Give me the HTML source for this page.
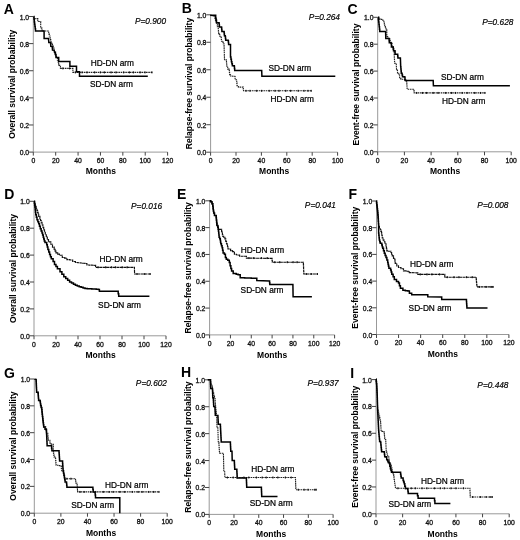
<!DOCTYPE html>
<html><head><meta charset="utf-8"><title>Kaplan-Meier survival curves</title>
<style>
html,body{margin:0;padding:0;background:#fff;}
body{width:520px;height:540px;overflow:hidden;}
svg{display:block;will-change:transform;}
text{font-family:"Liberation Sans", sans-serif;}
.L{font-size:14px;font-weight:bold;fill:#000;}
.tl{font-size:6.8px;fill:#111;stroke:#111;stroke-width:0.3px;}
.al{font-size:8.5px;font-weight:bold;fill:#000;}
.lg{font-size:8.3px;fill:#000;stroke:#000;stroke-width:0.22px;}
.pv{font-size:8.3px;font-style:italic;fill:#000;stroke:#000;stroke-width:0.18px;}
.ax{stroke:#999;stroke-width:1;fill:none;}
.tk{stroke:#444;stroke-width:1;fill:none;}
.sc{stroke:#000;stroke-width:1.5;fill:none;stroke-linejoin:miter;}
.dc{stroke:#222;stroke-width:1.1;fill:none;stroke-dasharray:1.6 0.7;}
.cm{fill:#111;}
.dc2{stroke:#111;stroke-width:1.15;stroke-dasharray:3 0.45;}
</style></head>
<body><svg width="520" height="540" viewBox="0 0 520 540">
<rect width="520" height="540" fill="#fff"/>
<text x="3.7" y="13.7" class="L">A</text>
<line x1="33.3" y1="16.5" x2="33.3" y2="152.1" class="ax"/>
<line x1="33.3" y1="152.1" x2="167.6" y2="152.1" class="ax"/>
<line x1="29.00" y1="152.10" x2="33.3" y2="152.10" class="tk"/>
<text x="29.10" y="155.10" class="tl" text-anchor="end">0.0</text>
<line x1="29.00" y1="124.98" x2="33.3" y2="124.98" class="tk"/>
<text x="29.10" y="127.98" class="tl" text-anchor="end">0.2</text>
<line x1="29.00" y1="97.86" x2="33.3" y2="97.86" class="tk"/>
<text x="29.10" y="100.86" class="tl" text-anchor="end">0.4</text>
<line x1="29.00" y1="70.74" x2="33.3" y2="70.74" class="tk"/>
<text x="29.10" y="73.74" class="tl" text-anchor="end">0.6</text>
<line x1="29.00" y1="43.62" x2="33.3" y2="43.62" class="tk"/>
<text x="29.10" y="46.62" class="tl" text-anchor="end">0.8</text>
<line x1="29.00" y1="16.50" x2="33.3" y2="16.50" class="tk"/>
<text x="29.10" y="19.50" class="tl" text-anchor="end">1.0</text>
<line x1="33.30" y1="152.1" x2="33.30" y2="155.60" class="tk"/>
<text x="33.30" y="162.80" class="tl" text-anchor="middle">0</text>
<line x1="55.68" y1="152.1" x2="55.68" y2="155.60" class="tk"/>
<text x="55.68" y="162.80" class="tl" text-anchor="middle">20</text>
<line x1="78.07" y1="152.1" x2="78.07" y2="155.60" class="tk"/>
<text x="78.07" y="162.80" class="tl" text-anchor="middle">40</text>
<line x1="100.45" y1="152.1" x2="100.45" y2="155.60" class="tk"/>
<text x="100.45" y="162.80" class="tl" text-anchor="middle">60</text>
<line x1="122.83" y1="152.1" x2="122.83" y2="155.60" class="tk"/>
<text x="122.83" y="162.80" class="tl" text-anchor="middle">80</text>
<line x1="145.22" y1="152.1" x2="145.22" y2="155.60" class="tk"/>
<text x="145.22" y="162.80" class="tl" text-anchor="middle">100</text>
<line x1="167.60" y1="152.1" x2="167.60" y2="155.60" class="tk"/>
<text x="167.60" y="162.80" class="tl" text-anchor="middle">120</text>
<text x="100.9" y="174.4" class="al" text-anchor="middle">Months</text>
<text transform="translate(14.80,84.30) rotate(-90)" class="al" text-anchor="middle">Overall survival probability</text>
<text x="166.1" y="23.6" class="pv" text-anchor="end">P=0.900</text>
<polyline points="33.70,16.60 33.90,18.60 37.80,18.60 37.80,21.50 40.70,21.50 40.70,28.10 42.00,28.10 42.00,31.00 48.70,31.00 48.70,34.00 49.35,34.00 49.35,36.00 50.00,36.00 50.00,38.00 50.50,38.00 50.50,40.00 51.00,40.00 51.00,42.00 51.75,42.00 51.75,44.00 52.50,44.00 52.50,46.00 53.25,46.00 53.25,48.00 54.00,48.00 54.00,50.00 54.50,50.00 54.50,52.00 55.00,52.00 55.00,54.00 55.75,54.00 55.75,56.00 56.50,56.00 56.50,58.00 57.40,58.00 57.40,60.25 58.30,60.25 58.30,62.50 58.70,62.50 58.70,65.40 60.40,65.40 60.40,68.40 72.90,68.40 72.90,72.40 152.20,72.40" class="dc"/>
<polyline points="33.70,16.60 34.00,16.60 34.00,19.30 34.30,19.30 34.30,22.00 34.60,22.00 34.60,24.25 34.90,24.25 34.90,26.50 35.20,26.50 35.20,28.75 35.50,28.75 35.50,31.00 44.10,31.00 44.10,38.50 48.50,38.50 48.80,42.50 50.50,42.50 50.80,46.30 52.20,46.50 52.50,50.00 54.20,50.30 54.50,52.30 55.40,52.30 55.40,54.60 56.00,54.60 56.00,57.50 58.70,57.50 58.70,61.60 69.90,61.60 69.90,66.30 76.50,66.30 76.50,71.70 79.50,71.70 79.50,76.20 147.80,76.20" class="sc"/>
<rect x="62.30" y="67.45" width="1.2" height="1.9" class="cm"/>
<rect x="69.00" y="67.45" width="1.2" height="1.9" class="cm"/>
<rect x="74.80" y="71.45" width="1.2" height="1.9" class="cm"/>
<rect x="81.50" y="71.45" width="1.2" height="1.9" class="cm"/>
<rect x="86.40" y="71.45" width="1.2" height="1.9" class="cm"/>
<rect x="94.00" y="71.45" width="1.2" height="1.9" class="cm"/>
<rect x="99.80" y="71.45" width="1.2" height="1.9" class="cm"/>
<rect x="103.80" y="71.45" width="1.2" height="1.9" class="cm"/>
<rect x="110.50" y="71.45" width="1.2" height="1.9" class="cm"/>
<rect x="115.40" y="71.45" width="1.2" height="1.9" class="cm"/>
<rect x="123.00" y="71.45" width="1.2" height="1.9" class="cm"/>
<rect x="128.80" y="71.45" width="1.2" height="1.9" class="cm"/>
<rect x="132.80" y="71.45" width="1.2" height="1.9" class="cm"/>
<rect x="139.50" y="71.45" width="1.2" height="1.9" class="cm"/>
<rect x="144.40" y="71.45" width="1.2" height="1.9" class="cm"/>
<rect x="151.30" y="71.45" width="1.2" height="1.9" class="cm"/>
<text x="90.7" y="65.7" class="lg">HD-DN arm</text>
<text x="90.0" y="86.7" class="lg">SD-DN arm</text>
<text x="181.7" y="13.3" class="L">B</text>
<line x1="210.6" y1="14.8" x2="210.6" y2="152.2" class="ax"/>
<line x1="210.6" y1="152.2" x2="337.6" y2="152.2" class="ax"/>
<line x1="206.30" y1="152.20" x2="210.6" y2="152.20" class="tk"/>
<text x="206.40" y="155.20" class="tl" text-anchor="end">0.0</text>
<line x1="206.30" y1="124.72" x2="210.6" y2="124.72" class="tk"/>
<text x="206.40" y="127.72" class="tl" text-anchor="end">0.2</text>
<line x1="206.30" y1="97.24" x2="210.6" y2="97.24" class="tk"/>
<text x="206.40" y="100.24" class="tl" text-anchor="end">0.4</text>
<line x1="206.30" y1="69.76" x2="210.6" y2="69.76" class="tk"/>
<text x="206.40" y="72.76" class="tl" text-anchor="end">0.6</text>
<line x1="206.30" y1="42.28" x2="210.6" y2="42.28" class="tk"/>
<text x="206.40" y="45.28" class="tl" text-anchor="end">0.8</text>
<line x1="206.30" y1="14.80" x2="210.6" y2="14.80" class="tk"/>
<text x="206.40" y="17.80" class="tl" text-anchor="end">1.0</text>
<line x1="210.60" y1="152.2" x2="210.60" y2="155.70" class="tk"/>
<text x="210.60" y="162.90" class="tl" text-anchor="middle">0</text>
<line x1="236.00" y1="152.2" x2="236.00" y2="155.70" class="tk"/>
<text x="236.00" y="162.90" class="tl" text-anchor="middle">20</text>
<line x1="261.40" y1="152.2" x2="261.40" y2="155.70" class="tk"/>
<text x="261.40" y="162.90" class="tl" text-anchor="middle">40</text>
<line x1="286.80" y1="152.2" x2="286.80" y2="155.70" class="tk"/>
<text x="286.80" y="162.90" class="tl" text-anchor="middle">60</text>
<line x1="312.20" y1="152.2" x2="312.20" y2="155.70" class="tk"/>
<text x="312.20" y="162.90" class="tl" text-anchor="middle">80</text>
<line x1="337.60" y1="152.2" x2="337.60" y2="155.70" class="tk"/>
<text x="337.60" y="162.90" class="tl" text-anchor="middle">100</text>
<text x="274.2" y="174.4" class="al" text-anchor="middle">Months</text>
<text transform="translate(192.10,83.50) rotate(-90)" class="al" text-anchor="middle">Relapse-free survival probability</text>
<text x="340.0" y="20.4" class="pv" text-anchor="end">P=0.264</text>
<polyline points="210.25,15.20 212.12,15.20 212.12,15.70 214.00,15.70 214.00,16.20 214.80,16.20 214.80,18.25 215.45,18.25 215.45,20.12 216.10,20.12 216.10,22.00 216.90,22.00 216.90,24.50 217.30,24.50 217.30,26.60 218.20,26.60 218.20,28.70 218.40,28.70 218.40,31.20 218.60,31.20 218.60,33.70 219.40,33.70 219.40,34.50 219.80,34.50 219.80,36.20 221.10,36.20 221.10,37.40 221.30,37.40 221.30,39.30 221.50,39.30 221.50,41.20 222.75,41.20 222.75,42.00 223.20,42.00 223.20,43.70 224.00,43.70 224.00,44.90 224.07,44.90 224.07,47.03 224.14,47.03 224.14,49.16 224.21,49.16 224.21,51.29 224.29,51.29 224.29,53.41 224.36,53.41 224.36,55.54 224.43,55.54 224.43,57.67 224.50,57.67 224.50,59.80 226.30,59.80 226.30,60.30 226.47,60.30 226.47,62.30 226.63,62.30 226.63,64.30 226.80,64.30 226.80,66.30 227.70,66.30 227.70,69.10 229.10,69.10 229.10,70.00 229.35,70.00 229.35,72.30 229.60,72.30 229.60,74.60 230.50,74.60 230.50,76.00 232.60,76.00 232.60,76.25 234.70,76.25 234.70,76.50 235.10,76.50 235.10,79.70 236.50,79.70 236.50,80.60 236.75,80.60 236.75,83.15 237.00,83.15 237.00,85.70 238.40,85.70 238.40,87.10 243.00,87.10 243.25,87.10 243.25,88.95 243.50,88.95 243.50,90.80 311.50,90.80" class="dc"/>
<polyline points="210.25,15.20 215.25,15.20 215.70,15.20 215.70,18.25 216.10,18.25 216.10,20.30 216.50,20.30 216.50,22.80 219.00,22.80 219.00,23.20 219.20,23.20 219.20,25.10 219.40,25.10 219.40,27.00 221.50,27.00 221.50,27.40 221.70,27.40 221.70,29.50 221.90,29.50 221.90,31.60 224.00,31.60 224.00,32.00 224.20,32.00 224.20,33.88 224.40,33.88 224.40,35.75 225.25,35.75 225.25,36.60 225.47,36.60 225.47,38.45 225.70,38.45 225.70,40.30 228.20,40.30 228.20,40.75 228.40,40.75 228.40,42.62 228.60,42.62 228.60,44.50 230.50,44.50 230.50,44.90 230.50,57.00 230.95,57.00 230.95,59.35 231.40,59.35 231.40,61.70 231.88,61.70 231.88,63.75 232.35,63.75 232.35,65.80 234.20,65.80 234.20,66.30 234.45,66.30 234.45,68.40 234.70,68.40 234.70,70.50 261.70,70.50 261.90,76.30 335.30,76.30" class="sc"/>
<rect x="245.40" y="89.85" width="1.2" height="1.9" class="cm"/>
<rect x="249.40" y="89.85" width="1.2" height="1.9" class="cm"/>
<rect x="256.10" y="89.85" width="1.2" height="1.9" class="cm"/>
<rect x="261.00" y="89.85" width="1.2" height="1.9" class="cm"/>
<rect x="268.60" y="89.85" width="1.2" height="1.9" class="cm"/>
<rect x="274.40" y="89.85" width="1.2" height="1.9" class="cm"/>
<rect x="278.40" y="89.85" width="1.2" height="1.9" class="cm"/>
<rect x="285.10" y="89.85" width="1.2" height="1.9" class="cm"/>
<rect x="290.00" y="89.85" width="1.2" height="1.9" class="cm"/>
<rect x="297.60" y="89.85" width="1.2" height="1.9" class="cm"/>
<rect x="303.40" y="89.85" width="1.2" height="1.9" class="cm"/>
<rect x="307.40" y="89.85" width="1.2" height="1.9" class="cm"/>
<rect x="310.60" y="89.85" width="1.2" height="1.9" class="cm"/>
<text x="268.4" y="70.5" class="lg">SD-DN arm</text>
<text x="270.6" y="101.5" class="lg">HD-DN arm</text>
<text x="347.4" y="13.9" class="L">C</text>
<line x1="377.7" y1="17.3" x2="377.7" y2="151.8" class="ax"/>
<line x1="377.7" y1="151.8" x2="511.2" y2="151.8" class="ax"/>
<line x1="373.40" y1="151.80" x2="377.7" y2="151.80" class="tk"/>
<text x="373.50" y="154.80" class="tl" text-anchor="end">0.0</text>
<line x1="373.40" y1="124.90" x2="377.7" y2="124.90" class="tk"/>
<text x="373.50" y="127.90" class="tl" text-anchor="end">0.2</text>
<line x1="373.40" y1="98.00" x2="377.7" y2="98.00" class="tk"/>
<text x="373.50" y="101.00" class="tl" text-anchor="end">0.4</text>
<line x1="373.40" y1="71.10" x2="377.7" y2="71.10" class="tk"/>
<text x="373.50" y="74.10" class="tl" text-anchor="end">0.6</text>
<line x1="373.40" y1="44.20" x2="377.7" y2="44.20" class="tk"/>
<text x="373.50" y="47.20" class="tl" text-anchor="end">0.8</text>
<line x1="373.40" y1="17.30" x2="377.7" y2="17.30" class="tk"/>
<text x="373.50" y="20.30" class="tl" text-anchor="end">1.0</text>
<line x1="377.70" y1="151.8" x2="377.70" y2="155.30" class="tk"/>
<text x="377.70" y="162.50" class="tl" text-anchor="middle">0</text>
<line x1="404.40" y1="151.8" x2="404.40" y2="155.30" class="tk"/>
<text x="404.40" y="162.50" class="tl" text-anchor="middle">20</text>
<line x1="431.10" y1="151.8" x2="431.10" y2="155.30" class="tk"/>
<text x="431.10" y="162.50" class="tl" text-anchor="middle">40</text>
<line x1="457.80" y1="151.8" x2="457.80" y2="155.30" class="tk"/>
<text x="457.80" y="162.50" class="tl" text-anchor="middle">60</text>
<line x1="484.50" y1="151.8" x2="484.50" y2="155.30" class="tk"/>
<text x="484.50" y="162.50" class="tl" text-anchor="middle">80</text>
<line x1="511.20" y1="151.8" x2="511.20" y2="155.30" class="tk"/>
<text x="511.20" y="162.50" class="tl" text-anchor="middle">100</text>
<text x="445.0" y="174.4" class="al" text-anchor="middle">Months</text>
<text transform="translate(359.20,84.55) rotate(-90)" class="al" text-anchor="middle">Event-free survival probability</text>
<text x="513.4" y="24.7" class="pv" text-anchor="end">P=0.628</text>
<polyline points="378.10,17.30 379.75,17.30 379.75,19.40 382.70,19.40 382.70,20.25 383.90,20.25 383.90,22.30 384.32,22.30 384.32,24.00 384.75,24.00 384.75,25.70 385.38,25.70 385.38,27.75 386.00,27.75 386.00,29.80 386.80,29.80 386.80,32.30 386.80,36.50 387.70,36.50 387.70,38.20 388.50,38.20 388.50,38.60 389.75,38.60 389.75,39.00 390.20,39.00 390.20,42.30 391.00,42.30 391.00,43.20 392.00,43.20 392.00,46.00 393.00,46.00 393.00,49.00 393.80,49.00 393.80,52.00 394.20,52.00 394.20,55.00 394.30,55.00 394.30,57.08 394.40,57.08 394.40,59.15 394.50,59.15 394.50,61.22 394.60,61.22 394.60,63.30 396.25,63.30 396.25,63.75 396.50,69.20 397.10,69.20 397.10,70.00 397.50,70.00 397.50,73.30 398.75,73.30 398.75,75.00 399.60,75.00 399.60,78.30 400.80,78.30 400.80,79.20 402.50,79.20 404.60,79.20 404.60,80.00 405.80,80.00 405.80,81.70 406.70,81.70 406.70,83.30 406.83,83.30 406.83,85.27 406.97,85.27 406.97,87.23 407.10,87.23 407.10,89.20 413.75,89.20 413.98,89.20 413.98,91.05 414.20,91.05 414.20,92.90 485.20,92.90" class="dc"/>
<polyline points="378.10,17.30 378.38,17.30 378.38,19.67 378.65,19.67 378.65,22.03 378.93,22.03 378.93,24.40 379.20,24.40 379.20,26.77 379.48,26.77 379.48,29.13 379.75,29.13 379.75,31.50 385.60,31.50 385.80,38.60 388.90,38.60 389.10,38.60 389.10,40.67 389.30,40.67 389.30,42.75 391.00,42.75 391.00,43.60 391.40,43.60 391.40,46.90 393.10,46.90 393.10,47.30 393.30,47.30 393.30,49.00 393.50,49.00 393.50,50.70 394.75,50.70 394.75,51.10 395.10,51.10 395.10,54.20 397.50,54.20 397.70,54.20 397.70,56.10 397.90,56.10 397.90,58.00 400.40,58.00 400.70,66.70 400.88,66.70 400.88,68.90 401.07,68.90 401.07,71.10 401.25,71.10 401.25,73.30 402.10,73.30 402.10,75.00 402.50,75.00 402.50,76.70 404.20,76.70 404.20,77.10 405.00,77.10 405.00,80.00 405.40,80.00 405.40,80.60 433.20,80.60 433.40,85.80 509.90,85.80" class="sc"/>
<rect x="416.10" y="91.95" width="1.2" height="1.9" class="cm"/>
<rect x="421.90" y="91.95" width="1.2" height="1.9" class="cm"/>
<rect x="425.90" y="91.95" width="1.2" height="1.9" class="cm"/>
<rect x="432.60" y="91.95" width="1.2" height="1.9" class="cm"/>
<rect x="437.50" y="91.95" width="1.2" height="1.9" class="cm"/>
<rect x="445.10" y="91.95" width="1.2" height="1.9" class="cm"/>
<rect x="450.90" y="91.95" width="1.2" height="1.9" class="cm"/>
<rect x="454.90" y="91.95" width="1.2" height="1.9" class="cm"/>
<rect x="461.60" y="91.95" width="1.2" height="1.9" class="cm"/>
<rect x="466.50" y="91.95" width="1.2" height="1.9" class="cm"/>
<rect x="474.10" y="91.95" width="1.2" height="1.9" class="cm"/>
<rect x="479.90" y="91.95" width="1.2" height="1.9" class="cm"/>
<rect x="484.30" y="91.95" width="1.2" height="1.9" class="cm"/>
<text x="441.0" y="79.9" class="lg">SD-DN arm</text>
<text x="442.1" y="103.8" class="lg">HD-DN arm</text>
<text x="4.2" y="198.9" class="L">D</text>
<line x1="34.0" y1="201.3" x2="34.0" y2="335.8" class="ax"/>
<line x1="34.0" y1="335.8" x2="166.0" y2="335.8" class="ax"/>
<line x1="29.70" y1="335.80" x2="34.0" y2="335.80" class="tk"/>
<text x="29.80" y="338.80" class="tl" text-anchor="end">0.0</text>
<line x1="29.70" y1="308.90" x2="34.0" y2="308.90" class="tk"/>
<text x="29.80" y="311.90" class="tl" text-anchor="end">0.2</text>
<line x1="29.70" y1="282.00" x2="34.0" y2="282.00" class="tk"/>
<text x="29.80" y="285.00" class="tl" text-anchor="end">0.4</text>
<line x1="29.70" y1="255.10" x2="34.0" y2="255.10" class="tk"/>
<text x="29.80" y="258.10" class="tl" text-anchor="end">0.6</text>
<line x1="29.70" y1="228.20" x2="34.0" y2="228.20" class="tk"/>
<text x="29.80" y="231.20" class="tl" text-anchor="end">0.8</text>
<line x1="29.70" y1="201.30" x2="34.0" y2="201.30" class="tk"/>
<text x="29.80" y="204.30" class="tl" text-anchor="end">1.0</text>
<line x1="34.00" y1="335.8" x2="34.00" y2="339.30" class="tk"/>
<text x="34.00" y="346.50" class="tl" text-anchor="middle">0</text>
<line x1="56.00" y1="335.8" x2="56.00" y2="339.30" class="tk"/>
<text x="56.00" y="346.50" class="tl" text-anchor="middle">20</text>
<line x1="78.00" y1="335.8" x2="78.00" y2="339.30" class="tk"/>
<text x="78.00" y="346.50" class="tl" text-anchor="middle">40</text>
<line x1="100.00" y1="335.8" x2="100.00" y2="339.30" class="tk"/>
<text x="100.00" y="346.50" class="tl" text-anchor="middle">60</text>
<line x1="122.00" y1="335.8" x2="122.00" y2="339.30" class="tk"/>
<text x="122.00" y="346.50" class="tl" text-anchor="middle">80</text>
<line x1="144.00" y1="335.8" x2="144.00" y2="339.30" class="tk"/>
<text x="144.00" y="346.50" class="tl" text-anchor="middle">100</text>
<line x1="166.00" y1="335.8" x2="166.00" y2="339.30" class="tk"/>
<text x="166.00" y="346.50" class="tl" text-anchor="middle">120</text>
<text x="100.6" y="358.0" class="al" text-anchor="middle">Months</text>
<text transform="translate(15.50,268.55) rotate(-90)" class="al" text-anchor="middle">Overall survival probability</text>
<text x="162.2" y="209.0" class="pv" text-anchor="end">P=0.016</text>
<polyline points="34.10,201.30 34.70,201.30 34.70,203.80 35.30,203.80 35.30,206.30 36.15,206.30 36.15,208.40 37.00,208.40 37.00,210.50 37.57,210.50 37.57,212.43 38.13,212.43 38.13,214.37 38.70,214.37 38.70,216.30 39.90,216.30 39.90,218.80 40.55,218.80 40.55,220.50 41.20,220.50 41.20,222.20 42.00,222.20 42.00,224.70 42.85,224.70 42.85,227.20 43.70,227.20 43.70,229.70 44.50,229.70 44.50,232.20 45.30,232.20 45.30,234.70 46.30,234.70 46.30,237.15 47.30,237.15 47.30,239.60 48.50,239.60 48.50,241.90 50.80,241.90 50.80,244.20 52.50,244.20 52.50,247.10 54.20,247.10 54.20,249.40 55.10,249.40 55.10,251.15 56.00,251.15 56.00,252.90 57.70,252.90 57.70,254.05 59.40,254.05 59.40,255.20 62.30,255.20 62.30,257.50 64.60,257.50 64.60,258.10 66.90,258.10 66.90,259.60 69.80,259.60 69.80,260.00 72.70,260.00 72.70,261.50 75.40,261.50 75.40,262.50 77.80,262.50 77.80,262.75 80.20,262.75 80.20,263.00 82.60,263.00 82.60,263.25 85.00,263.25 85.00,263.50 86.90,263.50 86.90,265.00 89.47,265.00 89.47,265.13 92.03,265.13 92.03,265.27 94.60,265.27 94.60,265.40 95.60,265.40 95.60,267.30 134.40,267.30 134.60,274.00 150.40,274.00" class="dc dc2"/>
<polyline points="34.10,201.30 34.37,201.30 34.37,203.27 34.63,203.27 34.63,205.23 34.90,205.23 34.90,207.20 35.18,207.20 35.18,209.70 35.47,209.70 35.47,212.20 35.75,212.20 35.75,214.70 36.38,214.70 36.38,217.20 37.00,217.20 37.00,219.70 37.85,219.70 37.85,221.75 38.70,221.75 38.70,223.80 39.50,223.80 39.50,226.30 40.30,226.30 40.30,228.80 41.15,228.80 41.15,230.90 42.00,230.90 42.00,233.00 42.62,233.00 42.62,235.10 43.25,235.10 43.25,237.20 43.77,237.20 43.77,239.10 44.30,239.10 44.30,241.00 45.00,241.00 45.00,242.50 46.70,242.50 46.70,244.80 47.30,244.80 47.30,247.10 47.90,247.10 47.90,249.40 48.75,249.40 48.75,252.00 49.60,252.00 49.60,254.60 50.45,254.60 50.45,256.65 51.30,256.65 51.30,258.70 53.10,258.70 53.10,261.50 54.50,261.50 54.50,264.40 55.95,264.40 55.95,266.60 57.40,266.60 57.40,268.80 60.00,268.80 60.00,271.70 61.90,271.70 61.90,274.25 63.80,274.25 63.80,276.80 65.73,276.80 65.73,278.53 67.67,278.53 67.67,280.27 69.60,280.27 69.60,282.00 71.53,282.00 71.53,283.07 73.47,283.07 73.47,284.13 75.40,284.13 75.40,285.20 77.30,285.20 77.30,285.95 79.20,285.95 79.20,286.70 81.13,286.70 81.13,287.30 83.07,287.30 83.07,287.90 85.00,287.90 85.00,288.50 87.25,288.50 87.25,288.65 89.50,288.65 89.50,288.80 91.75,288.80 91.75,288.95 94.00,288.95 94.00,289.10 96.25,289.10 96.25,289.25 98.50,289.25 98.50,289.40 99.40,289.40 99.40,291.30 117.70,291.30 118.20,291.30 118.20,293.75 118.70,293.75 118.70,296.20 149.40,296.20" class="sc"/>
<rect x="97.50" y="266.35" width="1.2" height="1.9" class="cm"/>
<rect x="105.10" y="266.35" width="1.2" height="1.9" class="cm"/>
<rect x="110.90" y="266.35" width="1.2" height="1.9" class="cm"/>
<rect x="114.90" y="266.35" width="1.2" height="1.9" class="cm"/>
<rect x="121.60" y="266.35" width="1.2" height="1.9" class="cm"/>
<rect x="126.50" y="266.35" width="1.2" height="1.9" class="cm"/>
<rect x="136.50" y="273.05" width="1.2" height="1.9" class="cm"/>
<rect x="144.10" y="273.05" width="1.2" height="1.9" class="cm"/>
<rect x="149.50" y="273.05" width="1.2" height="1.9" class="cm"/>
<text x="99.4" y="262.0" class="lg">HD-DN arm</text>
<text x="98.1" y="307.7" class="lg">SD-DN arm</text>
<text x="177.1" y="199.1" class="L">E</text>
<line x1="209.6" y1="200.8" x2="209.6" y2="334.9" class="ax"/>
<line x1="209.6" y1="334.9" x2="334.6" y2="334.9" class="ax"/>
<line x1="205.30" y1="334.90" x2="209.6" y2="334.90" class="tk"/>
<text x="205.40" y="337.90" class="tl" text-anchor="end">0.0</text>
<line x1="205.30" y1="308.08" x2="209.6" y2="308.08" class="tk"/>
<text x="205.40" y="311.08" class="tl" text-anchor="end">0.2</text>
<line x1="205.30" y1="281.26" x2="209.6" y2="281.26" class="tk"/>
<text x="205.40" y="284.26" class="tl" text-anchor="end">0.4</text>
<line x1="205.30" y1="254.44" x2="209.6" y2="254.44" class="tk"/>
<text x="205.40" y="257.44" class="tl" text-anchor="end">0.6</text>
<line x1="205.30" y1="227.62" x2="209.6" y2="227.62" class="tk"/>
<text x="205.40" y="230.62" class="tl" text-anchor="end">0.8</text>
<line x1="205.30" y1="200.80" x2="209.6" y2="200.80" class="tk"/>
<text x="205.40" y="203.80" class="tl" text-anchor="end">1.0</text>
<line x1="209.60" y1="334.9" x2="209.60" y2="338.40" class="tk"/>
<text x="209.60" y="345.60" class="tl" text-anchor="middle">0</text>
<line x1="230.43" y1="334.9" x2="230.43" y2="338.40" class="tk"/>
<text x="230.43" y="345.60" class="tl" text-anchor="middle">20</text>
<line x1="251.27" y1="334.9" x2="251.27" y2="338.40" class="tk"/>
<text x="251.27" y="345.60" class="tl" text-anchor="middle">40</text>
<line x1="272.10" y1="334.9" x2="272.10" y2="338.40" class="tk"/>
<text x="272.10" y="345.60" class="tl" text-anchor="middle">60</text>
<line x1="292.93" y1="334.9" x2="292.93" y2="338.40" class="tk"/>
<text x="292.93" y="345.60" class="tl" text-anchor="middle">80</text>
<line x1="313.77" y1="334.9" x2="313.77" y2="338.40" class="tk"/>
<text x="313.77" y="345.60" class="tl" text-anchor="middle">100</text>
<line x1="334.60" y1="334.9" x2="334.60" y2="338.40" class="tk"/>
<text x="334.60" y="345.60" class="tl" text-anchor="middle">120</text>
<text x="272.2" y="357.8" class="al" text-anchor="middle">Months</text>
<text transform="translate(191.10,267.85) rotate(-90)" class="al" text-anchor="middle">Relapse-free survival probability</text>
<text x="336.0" y="207.6" class="pv" text-anchor="end">P=0.041</text>
<polyline points="209.60,200.80 210.75,200.80 210.75,201.75 212.00,201.75 212.00,203.80 212.80,203.80 212.80,206.30 213.03,206.30 213.03,208.00 213.25,208.00 213.25,209.70 213.47,209.70 213.47,211.35 213.70,211.35 213.70,213.00 214.50,213.00 214.50,215.50 216.20,215.50 216.20,218.00 216.40,218.00 216.40,220.10 216.60,220.10 216.60,222.20 216.80,222.20 216.80,223.85 217.00,223.85 217.00,225.50 217.80,225.50 217.80,227.20 218.25,227.20 218.25,229.40 220.75,229.30 221.60,229.30 221.60,231.30 222.00,231.30 222.00,233.00 222.40,233.00 222.40,234.70 222.80,234.70 222.80,236.30 223.70,236.30 223.70,237.20 224.90,237.20 224.90,238.80 225.75,238.80 225.75,241.30 226.50,241.30 226.50,243.50 227.00,243.50 227.00,244.40 227.50,244.40 227.50,246.70 228.00,246.70 228.00,249.00 230.60,249.00 230.60,250.60 232.50,250.60 232.50,251.60 234.40,251.60 234.40,254.20 236.40,254.20 236.40,254.80 238.30,255.10 239.60,255.10 239.60,256.20 245.90,256.30 246.40,256.30 246.40,258.10 271.80,258.40 272.05,258.40 272.05,260.30 272.30,260.30 272.30,262.20 303.30,262.20 303.40,262.20 303.40,264.56 303.50,264.56 303.50,266.92 303.60,266.92 303.60,269.28 303.70,269.28 303.70,271.64 303.80,271.64 303.80,274.00 317.70,274.00" class="dc dc2"/>
<polyline points="209.60,200.80 210.75,200.80 210.75,201.75 212.00,201.75 212.00,203.80 212.80,203.80 212.80,206.30 213.03,206.30 213.03,208.00 213.25,208.00 213.25,209.70 213.47,209.70 213.47,211.35 213.70,211.35 213.70,213.00 214.50,213.00 214.50,215.50 216.20,215.50 216.20,218.00 216.40,218.00 216.40,220.10 216.60,220.10 216.60,222.20 216.80,222.20 216.80,223.85 217.00,223.85 217.00,225.50 217.80,225.50 217.80,227.20 218.25,227.20 218.25,229.40 218.47,229.40 218.47,231.20 218.70,231.20 218.70,233.00 218.90,233.00 218.90,235.10 219.10,235.10 219.10,237.20 219.70,237.20 219.70,238.85 220.30,238.85 220.30,240.50 220.55,240.50 220.55,242.15 220.80,242.15 220.80,243.80 221.45,243.80 221.45,245.75 222.10,245.75 222.10,247.70 222.60,247.70 222.60,250.30 223.10,250.30 223.10,252.90 224.40,252.90 224.40,254.20 225.40,254.20 225.40,257.40 226.30,257.40 226.30,259.30 227.80,259.30 227.80,260.30 229.30,260.30 229.30,262.60 230.10,262.60 230.10,265.70 230.85,265.70 230.85,268.40 231.60,268.40 231.60,271.10 233.20,271.10 233.20,273.40 236.20,273.40 236.20,274.20 238.10,274.20 238.10,274.70 240.20,274.70 240.20,277.80 242.41,277.80 242.41,277.87 244.63,277.87 244.63,277.94 246.84,277.94 246.84,278.01 249.06,278.01 249.06,278.09 251.27,278.09 251.27,278.16 253.49,278.16 253.49,278.23 255.70,278.23 255.70,278.30 256.80,278.30 256.80,280.60 269.40,280.90 269.60,280.90 269.60,282.75 269.80,282.75 269.80,284.60 292.90,284.60 293.10,296.70 311.90,296.70" class="sc"/>
<rect x="248.30" y="257.15" width="1.2" height="1.9" class="cm"/>
<rect x="253.20" y="257.15" width="1.2" height="1.9" class="cm"/>
<rect x="260.80" y="257.15" width="1.2" height="1.9" class="cm"/>
<rect x="266.60" y="257.15" width="1.2" height="1.9" class="cm"/>
<rect x="274.20" y="261.25" width="1.2" height="1.9" class="cm"/>
<rect x="279.10" y="261.25" width="1.2" height="1.9" class="cm"/>
<rect x="286.70" y="261.25" width="1.2" height="1.9" class="cm"/>
<rect x="292.50" y="261.25" width="1.2" height="1.9" class="cm"/>
<rect x="296.50" y="261.25" width="1.2" height="1.9" class="cm"/>
<rect x="305.70" y="273.05" width="1.2" height="1.9" class="cm"/>
<rect x="310.60" y="273.05" width="1.2" height="1.9" class="cm"/>
<rect x="316.80" y="273.05" width="1.2" height="1.9" class="cm"/>
<text x="240.8" y="252.6" class="lg">HD-DN arm</text>
<text x="240.6" y="293.3" class="lg">SD-DN arm</text>
<text x="348.6" y="199.1" class="L">F</text>
<line x1="376.5" y1="201.0" x2="376.5" y2="334.5" class="ax"/>
<line x1="376.5" y1="334.5" x2="508.9" y2="334.5" class="ax"/>
<line x1="372.20" y1="334.50" x2="376.5" y2="334.50" class="tk"/>
<text x="372.30" y="337.50" class="tl" text-anchor="end">0.0</text>
<line x1="372.20" y1="307.80" x2="376.5" y2="307.80" class="tk"/>
<text x="372.30" y="310.80" class="tl" text-anchor="end">0.2</text>
<line x1="372.20" y1="281.10" x2="376.5" y2="281.10" class="tk"/>
<text x="372.30" y="284.10" class="tl" text-anchor="end">0.4</text>
<line x1="372.20" y1="254.40" x2="376.5" y2="254.40" class="tk"/>
<text x="372.30" y="257.40" class="tl" text-anchor="end">0.6</text>
<line x1="372.20" y1="227.70" x2="376.5" y2="227.70" class="tk"/>
<text x="372.30" y="230.70" class="tl" text-anchor="end">0.8</text>
<line x1="372.20" y1="201.00" x2="376.5" y2="201.00" class="tk"/>
<text x="372.30" y="204.00" class="tl" text-anchor="end">1.0</text>
<line x1="376.50" y1="334.5" x2="376.50" y2="338.00" class="tk"/>
<text x="376.50" y="345.20" class="tl" text-anchor="middle">0</text>
<line x1="398.57" y1="334.5" x2="398.57" y2="338.00" class="tk"/>
<text x="398.57" y="345.20" class="tl" text-anchor="middle">20</text>
<line x1="420.63" y1="334.5" x2="420.63" y2="338.00" class="tk"/>
<text x="420.63" y="345.20" class="tl" text-anchor="middle">40</text>
<line x1="442.70" y1="334.5" x2="442.70" y2="338.00" class="tk"/>
<text x="442.70" y="345.20" class="tl" text-anchor="middle">60</text>
<line x1="464.77" y1="334.5" x2="464.77" y2="338.00" class="tk"/>
<text x="464.77" y="345.20" class="tl" text-anchor="middle">80</text>
<line x1="486.83" y1="334.5" x2="486.83" y2="338.00" class="tk"/>
<text x="486.83" y="345.20" class="tl" text-anchor="middle">100</text>
<line x1="508.90" y1="334.5" x2="508.90" y2="338.00" class="tk"/>
<text x="508.90" y="345.20" class="tl" text-anchor="middle">120</text>
<text x="442.9" y="357.0" class="al" text-anchor="middle">Months</text>
<text transform="translate(358.00,267.75) rotate(-90)" class="al" text-anchor="middle">Event-free survival probability</text>
<text x="508.5" y="208.1" class="pv" text-anchor="end">P=0.008</text>
<polyline points="376.30,201.10 376.55,201.10 376.55,203.03 376.80,203.03 376.80,204.95 377.05,204.95 377.05,206.88 377.30,206.88 377.30,208.80 377.48,208.80 377.48,210.80 377.66,210.80 377.66,212.80 377.84,212.80 377.84,214.80 378.02,214.80 378.02,216.80 378.20,216.80 378.20,218.80 378.33,218.80 378.33,221.30 378.47,221.30 378.47,223.80 378.60,223.80 378.60,226.30 379.43,226.30 379.43,228.00 380.25,228.00 380.25,229.70 380.88,229.70 380.88,231.35 381.50,231.35 381.50,233.00 381.88,233.00 381.88,235.50 382.25,235.50 382.25,238.00 383.07,238.00 383.07,239.85 383.90,239.85 383.90,241.70 384.95,241.70 384.95,243.75 386.00,243.75 386.00,245.80 386.40,245.80 386.40,248.30 386.80,248.30 386.80,250.80 388.50,250.80 388.50,251.25 391.00,251.25 391.00,252.50 391.62,252.50 391.62,254.15 392.25,254.15 392.25,255.80 393.50,255.80 393.50,258.30 394.75,258.30 394.75,259.20 394.98,259.20 394.98,261.25 395.20,261.25 395.20,263.30 396.80,263.30 396.80,265.80 398.50,265.80 398.50,267.50 401.00,267.50 401.00,268.75 403.50,268.75 403.50,270.80 406.00,270.80 406.00,271.25 408.30,271.25 408.30,271.70 409.40,271.70 409.40,272.60 416.10,272.80 417.80,272.80 417.80,274.40 443.90,274.40 444.80,274.40 444.80,277.20 476.00,277.20 476.23,277.20 476.23,279.62 476.45,279.62 476.45,282.05 476.67,282.05 476.67,284.47 476.90,284.47 476.90,286.90 493.30,286.90" class="dc dc2"/>
<polyline points="376.30,201.10 376.55,201.10 376.55,203.03 376.80,203.03 376.80,204.95 377.05,204.95 377.05,206.88 377.30,206.88 377.30,208.80 377.48,208.80 377.48,210.80 377.66,210.80 377.66,212.80 377.84,212.80 377.84,214.80 378.02,214.80 378.02,216.80 378.20,216.80 378.20,218.80 378.33,218.80 378.33,221.30 378.47,221.30 378.47,223.80 378.60,223.80 378.60,226.30 378.60,233.00 378.83,233.00 378.83,235.33 379.07,235.33 379.07,237.67 379.30,237.67 379.30,240.00 379.75,240.00 379.75,241.65 380.20,241.65 380.20,243.30 381.80,243.30 381.80,245.00 382.25,245.00 382.25,246.65 382.70,246.65 382.70,248.30 383.50,248.30 383.50,250.80 384.30,250.80 384.30,253.30 385.15,253.30 385.15,255.40 386.00,255.40 386.00,257.50 386.85,257.50 386.85,260.00 387.70,260.00 387.70,262.50 388.10,262.50 388.10,264.43 388.50,264.43 388.50,266.37 388.90,266.37 388.90,268.30 390.60,268.30 390.60,270.00 391.20,270.00 391.20,272.10 391.80,272.10 391.80,274.20 393.10,274.20 393.10,276.70 394.30,276.70 394.30,279.50 396.50,279.50 396.50,281.50 398.50,281.50 398.50,283.10 399.45,283.10 399.45,285.70 400.40,285.70 400.40,288.30 402.90,288.30 402.90,290.20 405.35,290.20 405.35,290.65 407.80,290.65 407.80,291.10 409.40,291.10 409.40,293.30 411.70,293.30 411.70,294.80 426.10,294.80 427.80,294.80 427.80,296.70 440.60,297.00 441.70,297.00 441.70,299.40 466.30,299.40 466.45,299.40 466.45,301.52 466.60,301.52 466.60,303.65 466.75,303.65 466.75,305.77 466.90,305.77 466.90,307.90 487.50,307.90" class="sc"/>
<rect x="419.70" y="273.45" width="1.2" height="1.9" class="cm"/>
<rect x="426.40" y="273.45" width="1.2" height="1.9" class="cm"/>
<rect x="431.30" y="273.45" width="1.2" height="1.9" class="cm"/>
<rect x="438.90" y="273.45" width="1.2" height="1.9" class="cm"/>
<rect x="446.70" y="276.25" width="1.2" height="1.9" class="cm"/>
<rect x="453.40" y="276.25" width="1.2" height="1.9" class="cm"/>
<rect x="458.30" y="276.25" width="1.2" height="1.9" class="cm"/>
<rect x="465.90" y="276.25" width="1.2" height="1.9" class="cm"/>
<rect x="471.70" y="276.25" width="1.2" height="1.9" class="cm"/>
<rect x="478.80" y="285.95" width="1.2" height="1.9" class="cm"/>
<rect x="485.50" y="285.95" width="1.2" height="1.9" class="cm"/>
<rect x="490.40" y="285.95" width="1.2" height="1.9" class="cm"/>
<rect x="492.40" y="285.95" width="1.2" height="1.9" class="cm"/>
<text x="410" y="266.7" class="lg">HD-DN arm</text>
<text x="408.6" y="311.2" class="lg">SD-DN arm</text>
<text x="3.9" y="377.7" class="L">G</text>
<line x1="34.3" y1="379.0" x2="34.3" y2="513.2" class="ax"/>
<line x1="34.3" y1="513.2" x2="167.2" y2="513.2" class="ax"/>
<line x1="30.00" y1="513.20" x2="34.3" y2="513.20" class="tk"/>
<text x="30.10" y="516.20" class="tl" text-anchor="end">0.0</text>
<line x1="30.00" y1="486.36" x2="34.3" y2="486.36" class="tk"/>
<text x="30.10" y="489.36" class="tl" text-anchor="end">0.2</text>
<line x1="30.00" y1="459.52" x2="34.3" y2="459.52" class="tk"/>
<text x="30.10" y="462.52" class="tl" text-anchor="end">0.4</text>
<line x1="30.00" y1="432.68" x2="34.3" y2="432.68" class="tk"/>
<text x="30.10" y="435.68" class="tl" text-anchor="end">0.6</text>
<line x1="30.00" y1="405.84" x2="34.3" y2="405.84" class="tk"/>
<text x="30.10" y="408.84" class="tl" text-anchor="end">0.8</text>
<line x1="30.00" y1="379.00" x2="34.3" y2="379.00" class="tk"/>
<text x="30.10" y="382.00" class="tl" text-anchor="end">1.0</text>
<line x1="34.30" y1="513.2" x2="34.30" y2="516.70" class="tk"/>
<text x="34.30" y="523.90" class="tl" text-anchor="middle">0</text>
<line x1="60.88" y1="513.2" x2="60.88" y2="516.70" class="tk"/>
<text x="60.88" y="523.90" class="tl" text-anchor="middle">20</text>
<line x1="87.46" y1="513.2" x2="87.46" y2="516.70" class="tk"/>
<text x="87.46" y="523.90" class="tl" text-anchor="middle">40</text>
<line x1="114.04" y1="513.2" x2="114.04" y2="516.70" class="tk"/>
<text x="114.04" y="523.90" class="tl" text-anchor="middle">60</text>
<line x1="140.62" y1="513.2" x2="140.62" y2="516.70" class="tk"/>
<text x="140.62" y="523.90" class="tl" text-anchor="middle">80</text>
<line x1="167.20" y1="513.2" x2="167.20" y2="516.70" class="tk"/>
<text x="167.20" y="523.90" class="tl" text-anchor="middle">100</text>
<text x="101.0" y="535.9" class="al" text-anchor="middle">Months</text>
<text transform="translate(15.80,446.10) rotate(-90)" class="al" text-anchor="middle">Overall survival probability</text>
<text x="167.0" y="385.5" class="pv" text-anchor="end">P=0.602</text>
<polyline points="34.50,379.30 36.10,379.60 36.18,379.60 36.18,381.72 36.27,381.72 36.27,383.83 36.35,383.83 36.35,385.95 36.43,385.95 36.43,388.07 36.52,388.07 36.52,390.18 36.60,390.18 36.60,392.30 38.10,392.30 38.10,393.80 38.27,393.80 38.27,396.00 38.43,396.00 38.43,398.20 38.60,398.20 38.60,400.40 40.10,400.40 40.10,401.40 40.35,401.40 40.35,403.45 40.60,403.45 40.60,405.50 41.15,405.50 41.15,407.55 41.70,407.55 41.70,409.60 41.95,409.60 41.95,411.88 42.20,411.88 42.20,414.15 42.45,414.15 42.45,416.43 42.70,416.43 42.70,418.70 42.95,418.70 42.95,420.75 43.20,420.75 43.20,422.80 43.45,422.80 43.45,424.85 43.70,424.85 43.70,426.90 45.70,426.90 45.70,428.50 46.05,428.50 46.05,430.90 46.40,430.90 46.40,433.30 47.80,433.30 47.80,436.10 48.15,436.10 48.15,438.20 48.50,438.20 48.50,440.30 49.90,440.30 49.90,443.10 51.30,443.10 51.30,444.40 53.30,444.40 53.30,445.10 53.30,452.80 53.65,452.80 53.65,454.85 54.00,454.85 54.00,456.90 55.40,456.90 55.40,458.30 55.63,458.30 55.63,460.63 55.87,460.63 55.87,462.97 56.10,462.97 56.10,465.30 58.55,465.30 58.55,465.65 61.00,465.65 61.00,466.00 61.35,466.00 61.35,468.40 61.70,468.40 61.70,470.80 63.10,470.80 63.10,472.20 63.53,472.20 63.53,474.37 63.97,474.37 63.97,476.53 64.40,476.53 64.40,478.70 75.30,478.70 75.55,478.70 75.55,481.00 75.80,481.00 75.80,483.30 77.00,483.30 77.00,483.80 77.15,483.80 77.15,485.82 77.30,485.82 77.30,487.85 77.45,487.85 77.45,489.88 77.60,489.88 77.60,491.90 159.20,491.90" class="dc"/>
<polyline points="34.50,379.30 36.10,379.60 36.18,379.60 36.18,381.72 36.27,381.72 36.27,383.83 36.35,383.83 36.35,385.95 36.43,385.95 36.43,388.07 36.52,388.07 36.52,390.18 36.60,390.18 36.60,392.30 38.10,392.30 38.10,393.80 38.27,393.80 38.27,396.00 38.43,396.00 38.43,398.20 38.60,398.20 38.60,400.40 40.10,400.40 40.10,401.40 40.35,401.40 40.35,403.45 40.60,403.45 40.60,405.50 41.15,405.50 41.15,407.55 41.70,407.55 41.70,409.60 41.95,409.60 41.95,411.88 42.20,411.88 42.20,414.15 42.45,414.15 42.45,416.43 42.70,416.43 42.70,418.70 42.95,418.70 42.95,420.75 43.20,420.75 43.20,422.80 43.45,422.80 43.45,424.85 43.70,424.85 43.70,426.90 45.00,426.90 45.00,429.20 46.40,429.20 46.40,429.90 46.50,429.90 46.50,432.17 46.60,432.17 46.60,434.44 46.70,434.44 46.70,436.71 46.80,436.71 46.80,438.99 46.90,438.99 46.90,441.26 47.00,441.26 47.00,443.53 47.10,443.53 47.10,445.80 51.30,445.80 51.60,445.80 51.60,448.25 51.90,448.25 51.90,450.70 58.90,450.70 59.04,450.70 59.04,452.78 59.18,452.78 59.18,454.86 59.32,454.86 59.32,456.94 59.46,456.94 59.46,459.02 59.60,459.02 59.60,461.10 62.40,461.10 62.58,461.10 62.58,463.53 62.75,463.53 62.75,465.95 62.92,465.95 62.92,468.38 63.10,468.38 63.10,470.80 63.53,470.80 63.53,473.13 63.97,473.13 63.97,475.47 64.40,475.47 64.40,477.80 64.75,477.80 64.75,479.85 65.10,479.85 65.10,481.90 66.50,481.90 66.50,483.30 66.70,483.30 66.70,485.30 66.90,485.30 66.90,487.30 92.60,487.30 92.90,487.30 92.90,489.60 93.20,489.60 93.20,491.90 94.90,491.90 94.90,492.50 95.20,492.50 95.20,495.10 95.50,495.10 95.50,497.70 119.80,497.70 119.80,513.20" class="sc"/>
<rect x="66.30" y="477.75" width="1.2" height="1.9" class="cm"/>
<rect x="70.30" y="477.75" width="1.2" height="1.9" class="cm"/>
<rect x="79.50" y="490.95" width="1.2" height="1.9" class="cm"/>
<rect x="83.50" y="490.95" width="1.2" height="1.9" class="cm"/>
<rect x="90.20" y="490.95" width="1.2" height="1.9" class="cm"/>
<rect x="95.10" y="490.95" width="1.2" height="1.9" class="cm"/>
<rect x="102.70" y="490.95" width="1.2" height="1.9" class="cm"/>
<rect x="108.50" y="490.95" width="1.2" height="1.9" class="cm"/>
<rect x="112.50" y="490.95" width="1.2" height="1.9" class="cm"/>
<rect x="119.20" y="490.95" width="1.2" height="1.9" class="cm"/>
<rect x="124.10" y="490.95" width="1.2" height="1.9" class="cm"/>
<rect x="131.70" y="490.95" width="1.2" height="1.9" class="cm"/>
<rect x="137.50" y="490.95" width="1.2" height="1.9" class="cm"/>
<rect x="141.50" y="490.95" width="1.2" height="1.9" class="cm"/>
<rect x="148.20" y="490.95" width="1.2" height="1.9" class="cm"/>
<rect x="153.10" y="490.95" width="1.2" height="1.9" class="cm"/>
<rect x="158.30" y="490.95" width="1.2" height="1.9" class="cm"/>
<text x="105.0" y="487.9" class="lg">HD-DN arm</text>
<text x="71.3" y="508.0" class="lg">SD-DN arm</text>
<text x="181.1" y="377.1" class="L">H</text>
<line x1="209.2" y1="379.8" x2="209.2" y2="514.4" class="ax"/>
<line x1="209.2" y1="514.4" x2="333.1" y2="514.4" class="ax"/>
<line x1="204.90" y1="514.40" x2="209.2" y2="514.40" class="tk"/>
<text x="205.00" y="517.40" class="tl" text-anchor="end">0.0</text>
<line x1="204.90" y1="487.48" x2="209.2" y2="487.48" class="tk"/>
<text x="205.00" y="490.48" class="tl" text-anchor="end">0.2</text>
<line x1="204.90" y1="460.56" x2="209.2" y2="460.56" class="tk"/>
<text x="205.00" y="463.56" class="tl" text-anchor="end">0.4</text>
<line x1="204.90" y1="433.64" x2="209.2" y2="433.64" class="tk"/>
<text x="205.00" y="436.64" class="tl" text-anchor="end">0.6</text>
<line x1="204.90" y1="406.72" x2="209.2" y2="406.72" class="tk"/>
<text x="205.00" y="409.72" class="tl" text-anchor="end">0.8</text>
<line x1="204.90" y1="379.80" x2="209.2" y2="379.80" class="tk"/>
<text x="205.00" y="382.80" class="tl" text-anchor="end">1.0</text>
<line x1="209.20" y1="514.4" x2="209.20" y2="517.90" class="tk"/>
<text x="209.20" y="525.10" class="tl" text-anchor="middle">0</text>
<line x1="233.98" y1="514.4" x2="233.98" y2="517.90" class="tk"/>
<text x="233.98" y="525.10" class="tl" text-anchor="middle">20</text>
<line x1="258.76" y1="514.4" x2="258.76" y2="517.90" class="tk"/>
<text x="258.76" y="525.10" class="tl" text-anchor="middle">40</text>
<line x1="283.54" y1="514.4" x2="283.54" y2="517.90" class="tk"/>
<text x="283.54" y="525.10" class="tl" text-anchor="middle">60</text>
<line x1="308.32" y1="514.4" x2="308.32" y2="517.90" class="tk"/>
<text x="308.32" y="525.10" class="tl" text-anchor="middle">80</text>
<line x1="333.10" y1="514.4" x2="333.10" y2="517.90" class="tk"/>
<text x="333.10" y="525.10" class="tl" text-anchor="middle">100</text>
<text x="271.2" y="536.8" class="al" text-anchor="middle">Months</text>
<text transform="translate(190.70,447.10) rotate(-90)" class="al" text-anchor="middle">Relapse-free survival probability</text>
<text x="338.7" y="386.3" class="pv" text-anchor="end">P=0.937</text>
<polyline points="207.80,379.80 210.30,379.80 210.75,379.80 210.75,382.05 211.20,382.05 211.20,384.30 212.00,384.30 212.00,386.80 212.40,386.80 212.40,389.30 212.60,389.30 212.60,391.00 212.80,391.00 212.80,392.70 213.65,392.70 213.65,395.20 214.50,395.20 214.50,397.70 214.90,397.70 214.90,398.50 215.10,398.50 215.10,401.00 215.30,401.00 215.30,403.50 215.45,403.50 215.45,405.43 215.60,405.43 215.60,407.37 215.75,407.37 215.75,409.30 215.97,409.30 215.97,411.00 216.20,411.00 216.20,412.70 216.40,412.70 216.40,414.70 216.60,414.70 216.60,416.70 216.68,416.70 216.68,418.94 216.76,418.94 216.76,421.18 216.84,421.18 216.84,423.42 216.92,423.42 216.92,425.66 217.00,425.66 217.00,427.90 217.80,427.90 217.80,428.30 217.88,428.30 217.88,430.53 217.95,430.53 217.95,432.77 218.03,432.77 218.03,435.00 218.10,435.00 218.10,437.23 218.18,437.23 218.18,439.47 218.25,439.47 218.25,441.70 218.70,441.70 218.70,442.50 218.90,442.50 218.90,445.00 219.10,445.00 219.10,447.50 219.23,447.50 219.23,449.43 219.37,449.43 219.37,451.37 219.50,451.37 219.50,453.30 223.40,453.30 223.45,453.30 223.45,455.60 223.50,455.60 223.50,457.90 223.55,457.90 223.55,460.20 223.60,460.20 223.60,462.50 223.65,462.50 223.65,464.80 223.70,464.80 223.70,467.10 223.75,467.10 223.75,469.40 223.80,469.40 223.80,471.70 224.70,471.70 224.70,472.50 224.90,477.50 295.40,477.50 295.47,477.50 295.47,479.53 295.53,479.53 295.53,481.57 295.60,481.57 295.60,483.60 295.67,483.60 295.67,485.63 295.73,485.63 295.73,487.67 295.80,487.67 295.80,489.70 316.50,489.70" class="dc"/>
<polyline points="207.80,379.80 210.30,379.80 210.41,379.80 210.41,381.98 210.53,381.98 210.53,384.15 210.64,384.15 210.64,386.32 210.75,386.32 210.75,388.50 212.40,388.50 212.40,388.90 212.50,388.90 212.50,391.10 212.60,391.10 212.60,393.30 212.70,393.30 212.70,395.50 212.80,395.50 212.80,397.70 213.25,397.70 213.25,398.10 213.36,398.10 213.36,400.18 213.47,400.18 213.47,402.25 213.59,402.25 213.59,404.32 213.70,404.32 213.70,406.40 214.90,406.40 214.90,407.25 215.00,407.25 215.00,409.24 215.10,409.24 215.10,411.23 215.20,411.23 215.20,413.21 215.30,413.21 215.30,415.20 217.80,415.40 217.91,415.40 217.91,417.60 218.03,417.60 218.03,419.80 218.14,419.80 218.14,422.00 218.25,422.00 218.25,424.20 220.30,424.20 220.30,424.60 220.41,424.60 220.41,426.79 220.53,426.79 220.53,428.98 220.64,428.98 220.64,431.16 220.75,431.16 220.75,433.35 220.86,433.35 220.86,435.54 220.97,435.54 220.97,437.73 221.09,437.73 221.09,439.91 221.20,439.91 221.20,442.10 230.30,442.10 230.41,442.10 230.41,444.39 230.53,444.39 230.53,446.68 230.64,446.68 230.64,448.96 230.75,448.96 230.75,451.25 232.00,451.25 232.00,451.70 232.20,460.40 234.25,460.40 234.25,460.80 234.36,460.80 234.36,462.90 234.47,462.90 234.47,465.00 234.59,465.00 234.59,467.10 234.70,467.10 234.70,469.20 236.75,469.20 236.75,469.60 236.86,469.60 236.86,471.73 236.97,471.73 236.97,473.85 237.09,473.85 237.09,475.98 237.20,475.98 237.20,478.10 246.30,478.10 246.40,478.10 246.40,480.38 246.50,480.38 246.50,482.65 246.60,482.65 246.60,484.93 246.70,484.93 246.70,487.20 261.30,487.20 261.40,487.20 261.40,489.50 261.50,489.50 261.50,491.80 261.60,491.80 261.60,494.10 261.70,494.10 261.70,496.40 277.50,496.40" class="sc"/>
<rect x="226.80" y="476.55" width="1.2" height="1.9" class="cm"/>
<rect x="232.60" y="476.55" width="1.2" height="1.9" class="cm"/>
<rect x="236.60" y="476.55" width="1.2" height="1.9" class="cm"/>
<rect x="243.30" y="476.55" width="1.2" height="1.9" class="cm"/>
<rect x="248.20" y="476.55" width="1.2" height="1.9" class="cm"/>
<rect x="255.80" y="476.55" width="1.2" height="1.9" class="cm"/>
<rect x="261.60" y="476.55" width="1.2" height="1.9" class="cm"/>
<rect x="265.60" y="476.55" width="1.2" height="1.9" class="cm"/>
<rect x="272.30" y="476.55" width="1.2" height="1.9" class="cm"/>
<rect x="277.20" y="476.55" width="1.2" height="1.9" class="cm"/>
<rect x="284.80" y="476.55" width="1.2" height="1.9" class="cm"/>
<rect x="290.60" y="476.55" width="1.2" height="1.9" class="cm"/>
<rect x="297.70" y="488.75" width="1.2" height="1.9" class="cm"/>
<rect x="303.50" y="488.75" width="1.2" height="1.9" class="cm"/>
<rect x="307.50" y="488.75" width="1.2" height="1.9" class="cm"/>
<rect x="314.20" y="488.75" width="1.2" height="1.9" class="cm"/>
<rect x="315.60" y="488.75" width="1.2" height="1.9" class="cm"/>
<text x="251.2" y="472.0" class="lg">HD-DN arm</text>
<text x="249.7" y="506.0" class="lg">SD-DN arm</text>
<text x="350.2" y="377.7" class="L">I</text>
<line x1="376.0" y1="379.6" x2="376.0" y2="513.8" class="ax"/>
<line x1="376.0" y1="513.8" x2="509.2" y2="513.8" class="ax"/>
<line x1="371.70" y1="513.80" x2="376.0" y2="513.80" class="tk"/>
<text x="371.80" y="516.80" class="tl" text-anchor="end">0.0</text>
<line x1="371.70" y1="486.96" x2="376.0" y2="486.96" class="tk"/>
<text x="371.80" y="489.96" class="tl" text-anchor="end">0.2</text>
<line x1="371.70" y1="460.12" x2="376.0" y2="460.12" class="tk"/>
<text x="371.80" y="463.12" class="tl" text-anchor="end">0.4</text>
<line x1="371.70" y1="433.28" x2="376.0" y2="433.28" class="tk"/>
<text x="371.80" y="436.28" class="tl" text-anchor="end">0.6</text>
<line x1="371.70" y1="406.44" x2="376.0" y2="406.44" class="tk"/>
<text x="371.80" y="409.44" class="tl" text-anchor="end">0.8</text>
<line x1="371.70" y1="379.60" x2="376.0" y2="379.60" class="tk"/>
<text x="371.80" y="382.60" class="tl" text-anchor="end">1.0</text>
<line x1="376.00" y1="513.8" x2="376.00" y2="517.30" class="tk"/>
<text x="376.00" y="524.50" class="tl" text-anchor="middle">0</text>
<line x1="402.64" y1="513.8" x2="402.64" y2="517.30" class="tk"/>
<text x="402.64" y="524.50" class="tl" text-anchor="middle">20</text>
<line x1="429.28" y1="513.8" x2="429.28" y2="517.30" class="tk"/>
<text x="429.28" y="524.50" class="tl" text-anchor="middle">40</text>
<line x1="455.92" y1="513.8" x2="455.92" y2="517.30" class="tk"/>
<text x="455.92" y="524.50" class="tl" text-anchor="middle">60</text>
<line x1="482.56" y1="513.8" x2="482.56" y2="517.30" class="tk"/>
<text x="482.56" y="524.50" class="tl" text-anchor="middle">80</text>
<line x1="509.20" y1="513.8" x2="509.20" y2="517.30" class="tk"/>
<text x="509.20" y="524.50" class="tl" text-anchor="middle">100</text>
<text x="442.7" y="536.5" class="al" text-anchor="middle">Months</text>
<text transform="translate(357.50,446.70) rotate(-90)" class="al" text-anchor="middle">Event-free survival probability</text>
<text x="508.5" y="387.6" class="pv" text-anchor="end">P=0.448</text>
<polyline points="376.00,379.30 376.23,379.30 376.23,381.53 376.47,381.53 376.47,383.77 376.70,383.77 376.70,386.00 376.80,386.00 376.80,388.00 376.90,388.00 376.90,390.00 377.00,390.00 377.00,392.00 377.10,392.00 377.10,394.00 377.20,394.00 377.20,396.00 377.27,396.00 377.27,398.33 377.33,398.33 377.33,400.67 377.40,400.67 377.40,403.00 377.47,403.00 377.47,405.33 377.53,405.33 377.53,407.67 377.60,407.67 377.60,410.00 378.10,410.00 378.10,412.05 378.60,412.05 378.60,414.10 379.10,414.10 379.10,416.10 379.60,416.10 379.60,418.10 380.10,418.10 380.10,420.15 380.60,420.15 380.60,422.20 380.73,422.20 380.73,424.50 380.85,424.50 380.85,426.80 380.98,426.80 380.98,429.10 381.10,429.10 381.10,431.40 383.20,431.40 383.20,431.90 384.20,431.90 384.20,433.40 384.37,433.40 384.37,435.43 384.53,435.43 384.53,437.47 384.70,437.47 384.70,439.50 385.70,439.50 385.70,440.50 385.80,440.50 385.80,442.74 385.90,442.74 385.90,444.98 386.00,444.98 386.00,447.22 386.10,447.22 386.10,449.46 386.20,449.46 386.20,451.70 386.70,451.70 386.70,453.70 387.20,453.70 387.20,454.80 387.70,454.80 387.70,456.80 388.80,456.80 388.80,459.30 389.40,459.30 389.40,461.20 390.00,461.20 390.00,463.10 390.63,463.10 390.63,465.40 391.27,465.40 391.27,467.70 391.90,467.70 391.90,470.00 392.50,470.00 392.50,472.30 393.10,472.30 393.10,474.60 393.70,474.60 393.70,476.90 394.10,476.90 394.10,479.50 394.50,479.50 394.50,482.10 394.80,482.10 394.80,484.17 395.10,484.17 395.10,486.23 395.40,486.23 395.40,488.30 469.80,488.20 469.90,488.20 469.90,490.40 470.00,490.40 470.00,492.60 470.10,492.60 470.10,494.80 470.20,494.80 470.20,497.00 492.50,497.00" class="dc"/>
<polyline points="376.00,379.30 376.23,379.30 376.23,381.53 376.47,381.53 376.47,383.77 376.70,383.77 376.70,386.00 376.80,386.00 376.80,388.00 376.90,388.00 376.90,390.00 377.00,390.00 377.00,392.00 377.10,392.00 377.10,394.00 377.20,394.00 377.20,396.00 377.27,396.00 377.27,398.33 377.33,398.33 377.33,400.67 377.40,400.67 377.40,403.00 377.47,403.00 377.47,405.33 377.53,405.33 377.53,407.67 377.60,407.67 377.60,410.00 377.70,410.00 377.70,412.04 377.80,412.04 377.80,414.08 377.90,414.08 377.90,416.12 378.00,416.12 378.00,418.16 378.10,418.16 378.10,420.20 378.20,420.20 378.20,422.22 378.30,422.22 378.30,424.24 378.40,424.24 378.40,426.26 378.50,426.26 378.50,428.28 378.60,428.28 378.60,430.30 378.77,430.30 378.77,432.33 378.93,432.33 378.93,434.37 379.10,434.37 379.10,436.40 379.35,436.40 379.35,438.95 379.60,438.95 379.60,441.50 380.60,441.50 380.60,442.60 380.85,442.60 380.85,445.10 381.10,445.10 381.10,447.60 381.35,447.60 381.35,449.65 381.60,449.65 381.60,451.70 384.20,451.70 384.20,452.20 384.45,452.20 384.45,454.50 384.70,454.50 384.70,456.80 386.20,456.80 386.20,457.30 386.70,457.30 386.70,459.80 387.70,459.80 387.70,460.90 388.20,460.90 388.20,462.40 389.20,462.40 389.20,463.50 389.80,463.50 389.80,466.15 390.40,466.15 390.40,468.80 390.95,468.80 390.95,470.55 391.50,470.55 391.50,472.30 400.30,472.30 400.60,472.30 400.60,474.23 400.90,474.23 400.90,476.17 401.20,476.17 401.20,478.10 403.10,478.10 403.10,480.40 403.65,480.40 403.65,482.10 404.20,482.10 404.20,483.80 404.80,483.80 404.80,486.15 405.40,486.15 405.40,488.50 407.70,488.50 407.70,489.60 407.95,489.60 407.95,491.55 408.20,491.55 408.20,493.50 416.90,493.50 417.50,493.50 417.50,495.85 418.10,495.85 418.10,498.20 434.20,498.20 434.55,498.20 434.55,500.85 434.90,500.85 434.90,503.50 450.40,503.50" class="sc"/>
<rect x="397.30" y="487.35" width="1.2" height="1.9" class="cm"/>
<rect x="404.90" y="487.35" width="1.2" height="1.9" class="cm"/>
<rect x="410.70" y="487.35" width="1.2" height="1.9" class="cm"/>
<rect x="414.70" y="487.35" width="1.2" height="1.9" class="cm"/>
<rect x="421.40" y="487.35" width="1.2" height="1.9" class="cm"/>
<rect x="426.30" y="487.35" width="1.2" height="1.9" class="cm"/>
<rect x="433.90" y="487.35" width="1.2" height="1.9" class="cm"/>
<rect x="439.70" y="487.35" width="1.2" height="1.9" class="cm"/>
<rect x="443.70" y="487.35" width="1.2" height="1.9" class="cm"/>
<rect x="450.40" y="487.35" width="1.2" height="1.9" class="cm"/>
<rect x="455.30" y="487.35" width="1.2" height="1.9" class="cm"/>
<rect x="462.90" y="487.35" width="1.2" height="1.9" class="cm"/>
<rect x="472.10" y="496.05" width="1.2" height="1.9" class="cm"/>
<rect x="479.70" y="496.05" width="1.2" height="1.9" class="cm"/>
<rect x="485.50" y="496.05" width="1.2" height="1.9" class="cm"/>
<rect x="489.50" y="496.05" width="1.2" height="1.9" class="cm"/>
<rect x="491.60" y="496.05" width="1.2" height="1.9" class="cm"/>
<text x="420.9" y="484.0" class="lg">HD-DN arm</text>
<text x="388.4" y="506.9" class="lg">SD-DN arm</text>
</svg></body></html>
